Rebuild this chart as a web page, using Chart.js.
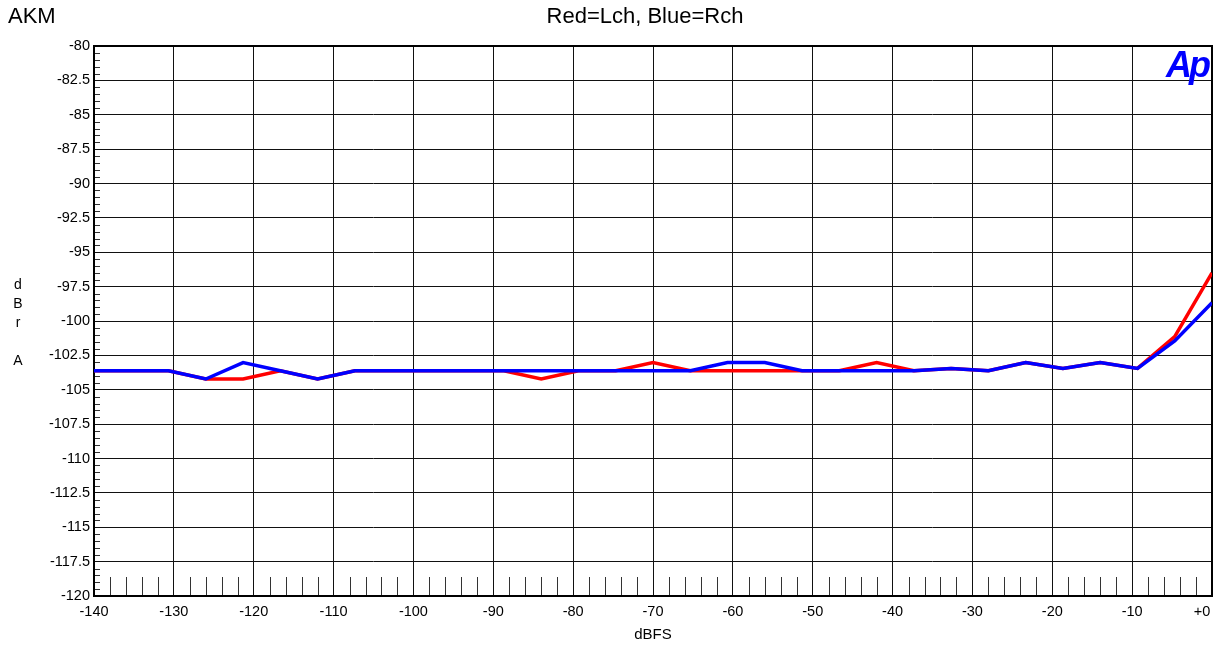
<!DOCTYPE html>
<html>
<head>
<meta charset="utf-8">
<script src="https://cdn.jsdelivr.net/npm/chart.js@4.4.1/dist/chart.umd.min.js"></script>
<style>
  html, body { margin: 0; padding: 0; background: #fff; }
  #wrap { position: relative; width: 1225px; height: 647px; overflow: hidden; font-family: "Liberation Sans", Arial, sans-serif; color: #000; }
  canvas { position: absolute; left: 0; top: 0; }
  .t { position: absolute; white-space: nowrap; line-height: 1; }
  #akm { left: 8px; top: 5px; font-size: 22px; }
  #sub { left: 645px; top: 5px; font-size: 22px; transform: translateX(-50%); }
  #ylab { left: 12px; top: 275px; font-size: 14px; line-height: 19px; text-align: center; width: 12px; }
  #xlab { left: 653px; top: 626px; font-size: 15px; transform: translateX(-50%); }
  #ap { left: 1166px; top: 47px; font-size: 36px; font-weight: bold; font-style: italic; color: #0000ff; letter-spacing: -3px; font-family: "Liberation Sans", Arial, sans-serif; }
</style>
</head>
<body>
<div id="wrap">
  <canvas id="c" width="1225" height="647"></canvas>
  <div class="t" id="akm">AKM</div>
  <div class="t" id="sub">Red=Lch, Blue=Rch</div>
  <div class="t" id="ylab">d<br>B<br>r<br>&nbsp;<br>A</div>
  <div class="t" id="xlab">dBFS</div>
  <div class="t" id="ap">Ap</div>
</div>
<script>
const levels = [-140, -135.33, -130.67, -126, -121.33, -116.67, -112, -107.33, -102.67, -98, -93.33, -88.67, -84, -79.33, -74.67, -70, -65.33, -60.67, -56, -51.33, -46.67, -42, -37.33, -32.67, -28, -23.33, -18.67, -14, -9.33, -4.67, 0];
const redLch = [-103.62, -103.62, -103.62, -104.22, -104.22, -103.62, -104.22, -103.62, -103.62, -103.62, -103.62, -103.62, -104.22, -103.62, -103.62, -103.02, -103.62, -103.62, -103.62, -103.62, -103.62, -103.02, -103.62, -103.45, -103.62, -103.02, -103.45, -103.02, -103.45, -101.14, -96.5];
const blueRch = [-103.62, -103.62, -103.62, -104.22, -103.02, -103.62, -104.22, -103.62, -103.62, -103.62, -103.62, -103.62, -103.62, -103.62, -103.62, -103.62, -103.62, -103.02, -103.02, -103.62, -103.62, -103.62, -103.62, -103.45, -103.62, -103.02, -103.45, -103.02, -103.45, -101.45, -98.67];
const xTicks = [-140, -130, -120, -110, -100, -90, -80, -70, -60, -50, -40, -30, -20, -10, 0];
const yTicks = [-80, -82.5, -85, -87.5, -90, -92.5, -95, -97.5, -100, -102.5, -105, -107.5, -110, -112.5, -115, -117.5, -120];

const toPts = arr => levels.map((x, i) => ({ x: x, y: arr[i] }));

const frame = {
  id: 'frame',
  beforeDatasetsDraw(chart) {
    const { ctx, chartArea: a, scales } = chart;
    ctx.save();
    ctx.strokeStyle = '#333';
    ctx.lineWidth = 1;
    ctx.beginPath();
    for (let v = -138; v < 0; v += 2) {
      if (v % 10 === 0) continue;
      const x = Math.round(scales.x.getPixelForValue(v)) + 0.5;
      ctx.moveTo(x, a.bottom);
      ctx.lineTo(x, a.bottom - 19);
    }
    for (let v = -119.5; v < -80; v += 0.5) {
      if (Math.abs(v / 2.5 - Math.round(v / 2.5)) < 1e-6) continue;
      const y = Math.round(scales.y.getPixelForValue(v)) + 0.5;
      ctx.moveTo(a.left, y);
      ctx.lineTo(a.left + 6, y);
    }
    ctx.stroke();
    ctx.strokeStyle = '#000';
    ctx.lineWidth = 2;
    ctx.strokeRect(a.left, a.top, a.right - a.left, a.bottom - a.top);
    ctx.restore();
  }
};

new Chart(document.getElementById('c'), {
  type: 'line',
  data: {
    datasets: [
      { label: 'Rch', data: toPts(blueRch), borderColor: '#0000ff', borderWidth: 3.5, pointRadius: 0, tension: 0, fill: false },
      { label: 'Lch', data: toPts(redLch), borderColor: '#ff0000', borderWidth: 3.5, pointRadius: 0, tension: 0, fill: false }
    ]
  },
  options: {
    responsive: false,
    animation: false,
    devicePixelRatio: 1,
    layout: { padding: { left: 0, right: 13, top: 46, bottom: 0 } },
    plugins: { legend: { display: false }, tooltip: { enabled: false }, title: { display: false } },
    scales: {
      x: {
        type: 'linear',
        min: -140, max: 0,
        afterFit(s) { s.height = 51; s.paddingLeft = 0; s.paddingRight = 0; },
        afterBuildTicks(s) { s.ticks = xTicks.map(v => ({ value: v })); },
        ticks: {
          autoSkip: false, maxRotation: 0, padding: 7,
          color: '#000',
          font: { family: '"Liberation Sans", Arial, sans-serif', size: 14.5 },
          callback: v => (v === 0 ? '+0     ' : String(v))
        },
        grid: { color: '#111', lineWidth: 1, drawTicks: false },
        border: { display: false }
      },
      y: {
        type: 'linear',
        min: -120, max: -80,
        afterFit(s) { s.width = 94; s.paddingTop = 0; s.paddingBottom = 0; },
        afterBuildTicks(s) { s.ticks = yTicks.map(v => ({ value: v })); },
        ticks: {
          autoSkip: false, padding: 4,
          color: '#000',
          font: { family: '"Liberation Sans", Arial, sans-serif', size: 14.5 },
          callback: v => String(v)
        },
        grid: { color: '#111', lineWidth: 1, drawTicks: false },
        border: { display: false }
      }
    }
  },
  plugins: [frame]
});
</script>
</body>
</html>
